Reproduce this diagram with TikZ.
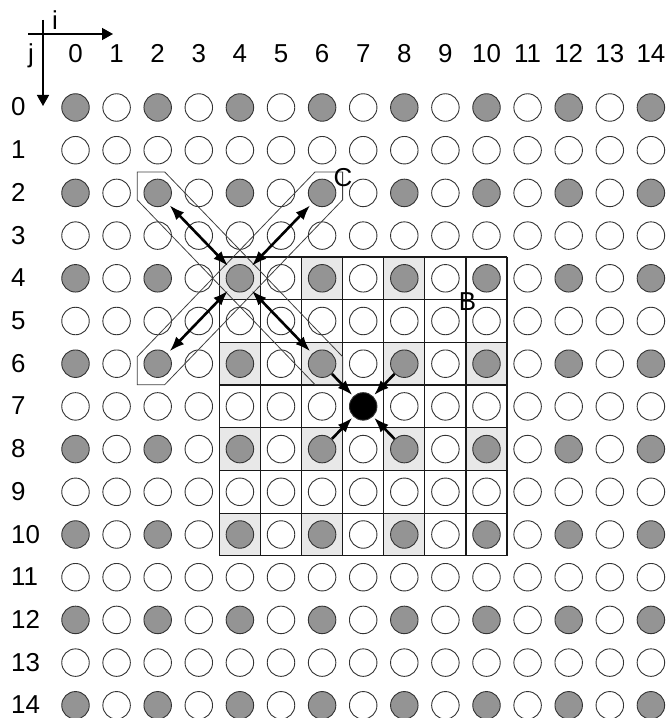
\documentclass[tikz,border=0pt]{standalone}
\usepackage{fontspec}
\setmainfont{Liberation Sans}
\usetikzlibrary{arrows.meta}
\definecolor{dotgray}{gray}{0.58}
\definecolor{cellgray}{gray}{0.91}
\tikzset{
  dot/.style={circle, draw=black!80, line width=0.9bp, minimum size=27.5bp, inner sep=0pt},
  lbl/.style={font=\fontsize{26}{30}\selectfont, inner sep=0pt},
  gridline/.style={black!90, line width=1.2bp},
  cshape/.style={black!75, line width=0.8bp},
  twoway/.style={line width=2.6bp, {Latex[length=15bp,width=11bp]}-{Latex[length=15bp,width=11bp]}, shorten <=3bp, shorten >=3bp},
  oneway/.style={line width=2.6bp, -{Latex[length=15bp,width=11bp]}, shorten >=1.5bp},
  axis/.style={line width=1.5bp, -{Triangle[length=11bp,width=12bp]}}
}
\begin{document}
\begin{tikzpicture}[x=1bp,y=-1bp]
\useasboundingbox (0,0) rectangle (669,718);
\def\colstep{41.1}
\def\rowstep{42.7}
\def\xzero{75.5}
\def\yzero{107.5}

% axes i and j
\coordinate (i0) at (28,34);
\coordinate (i1) at (113,34);
\coordinate (j0) at (43,20);
\coordinate (j1) at (43,106);
\draw[axis] (i0) -- (i1);
\draw[axis] (j0) -- (j1);
\node[lbl, anchor=base] (ilab) at (55,30) {i};
\node[lbl, anchor=base] (jlab) at (31,63) {j};

% index numbers
\foreach \k in {0,...,14} {
    \node[lbl, anchor=base] (col-\k) at (\xzero+\k*\colstep, 63) {\k};
    \node[lbl, anchor=base west] (row-\k) at (11, \yzero+\k*\rowstep+8.5) {\k};
}

% block B: shaded cells and grid
\foreach \i/\j in {4/4,6/4,8/4,4/6,6/6,8/6,10/6,4/8,6/8,8/8,10/8,4/10,6/10,8/10} {
    \fill[cellgray] (\xzero+\i*\colstep-20.55, \yzero+\j*\rowstep-21.35) rectangle ++(\colstep,\rowstep);
}
\foreach \k in {0,...,7} {
    \draw[gridline] (\xzero+3.5*\colstep+\k*\colstep, \yzero+3.5*\rowstep) -- ++(0, 7*\rowstep);
    \draw[gridline] (\xzero+3.5*\colstep, \yzero+3.5*\rowstep+\k*\rowstep) -- ++(7*\colstep, 0);
}

% lattice points
\foreach \i in {0,...,14} {
    \foreach \j in {0,...,14} {
        \pgfmathtruncatemacro\parity{mod(\i,2)+mod(\j,2)}
        \def\dotcol{white}
        \ifnum\parity=0 \def\dotcol{dotgray}\fi
        \ifnum\i=7 \ifnum\j=7 \def\dotcol{black}\fi\fi
        \node[dot, fill=\dotcol] (c-\i-\j) at (\xzero+\i*\colstep, \yzero+\j*\rowstep) {};
    }
}

% region C
\draw[cshape] ([shift={(-20.5,-21)}]c-2-2.center) -- ([shift={(7,-21)}]c-2-2.center)
    -- ([shift={(20.5,-7)}]c-6-6.center) -- ([shift={(20.5,21)}]c-6-6.center)
    -- ([shift={(-7,21)}]c-6-6.center) -- ([shift={(-20.5,7)}]c-2-2.center) -- cycle;
\draw[cshape] ([shift={(20.5,-21)}]c-6-2.center) -- ([shift={(20.5,7)}]c-6-2.center)
    -- ([shift={(7,21)}]c-2-6.center) -- ([shift={(-20.5,21)}]c-2-6.center)
    -- ([shift={(-20.5,-7)}]c-2-6.center) -- ([shift={(-7,-21)}]c-6-2.center) -- cycle;
\node[lbl, anchor=base] (clab) at (343,186.5) {C};
\node[lbl, anchor=base] (blab) at (467.5,310) {B};

% arrows
\foreach \n in {2-2,6-2,2-6,6-6} {
    \draw[twoway] (c-4-4) -- (c-\n);
}
\foreach \n in {6-6,8-6,6-8,8-8} {
    \draw[oneway] (c-\n) -- (c-7-7);
}
\end{tikzpicture}
\end{document}
